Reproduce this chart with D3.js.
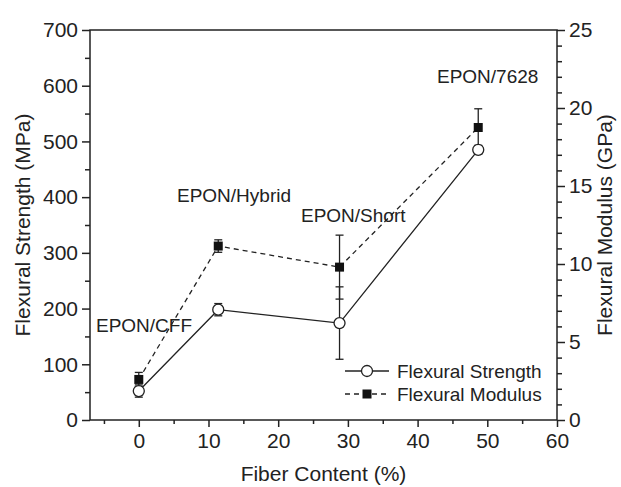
<!DOCTYPE html>
<html>
<head>
<meta charset="utf-8">
<script src="https://cdn.jsdelivr.net/npm/d3@7"></script>
<style>
  body { margin: 0; background: #fff; }
  text { font-family: "Liberation Sans", Arial, sans-serif; fill: #222; }
</style>
</head>
<body>
<svg id="chart" width="621" height="487"></svg>
<script>
// values
const fiber = [0, 11.4, 28.8, 48.7];
const strength = [52, 198, 174, 485];
const strengthErr = [11, 11, 65, 8];
const modulus = [2.6, 11.15, 9.8, 18.75];
const modulusErr = [0.45, 0.4, 2.05, 1.2];
const sampleNames = ["EPON/CFF", "EPON/Hybrid", "EPON/Short", "EPON/7628"];
const xTicks = [0, 10, 20, 30, 40, 50, 60];
const yLeftTicks = [0, 100, 200, 300, 400, 500, 600, 700];
const yRightTicks = [0, 5, 10, 15, 20, 25];

const width = 621, height = 487;
const margin = { top: 30, right: 64, bottom: 67, left: 90 };
const chartWidth = width - margin.left - margin.right;
const chartHeight = height - margin.top - margin.bottom;

const svg = d3.select('#chart')
    .append('g')
    .attr('transform', `translate(${margin.left}, ${margin.top})`);

const xScale = d3.scaleLinear().domain([-7, 60]).range([0, chartWidth]);
const yLeft = d3.scaleLinear().domain([0, 700]).range([chartHeight, 0]);
const yRight = d3.scaleLinear().domain([0, 25]).range([chartHeight, 0]);

// frame
svg.append('rect')
    .attr('width', chartWidth)
    .attr('height', chartHeight)
    .attr('fill', 'none')
    .attr('stroke', '#222')
    .attr('stroke-width', 1.5);

// minor ticks first, then major ticks with labels
function styleAxis(g) {
    g.select('.domain').remove();
    g.selectAll('line').attr('stroke', '#222').attr('stroke-width', 1.5);
    g.selectAll('text').style('font-size', '21px').attr('fill', '#222');
}

svg.append('g')
    .attr('transform', `translate(0, ${chartHeight})`)
    .call(d3.axisBottom(xScale).tickValues(d3.range(-5, 60, 10)).tickSize(4).tickFormat(''))
    .call(styleAxis);
svg.append('g')
    .attr('transform', `translate(0, ${chartHeight})`)
    .call(d3.axisBottom(xScale).tickValues(xTicks).tickSize(7).tickPadding(6))
    .call(styleAxis);

svg.append('g')
    .call(d3.axisLeft(yLeft).tickValues(d3.range(50, 700, 100)).tickSize(5).tickFormat(''))
    .call(styleAxis);
svg.append('g')
    .call(d3.axisLeft(yLeft).tickValues(yLeftTicks).tickSize(8).tickPadding(4))
    .call(styleAxis);

svg.append('g')
    .attr('transform', `translate(${chartWidth}, 0)`)
    .call(d3.axisRight(yRight).tickValues(d3.range(1, 25, 1).filter(v => v % 5 !== 0)).tickSize(5).tickFormat(''))
    .call(styleAxis);
svg.append('g')
    .attr('transform', `translate(${chartWidth}, 0)`)
    .call(d3.axisRight(yRight).tickValues(yRightTicks).tickSize(8).tickPadding(4))
    .call(styleAxis);

// axis titles
svg.append('text')
    .attr('x', chartWidth / 2)
    .attr('y', chartHeight + 61)
    .style('text-anchor', 'middle')
    .style('font-size', '21px')
    .text('Fiber Content (%)');

svg.append('text')
    .attr('transform', 'rotate(-90)')
    .attr('x', -chartHeight / 2)
    .attr('y', -margin.left + 30)
    .style('text-anchor', 'middle')
    .style('font-size', '21px')
    .text('Flexural Strength (MPa)');

svg.append('text')
    .attr('transform', 'rotate(-90)')
    .attr('x', -chartHeight / 2)
    .attr('y', chartWidth + 55)
    .style('text-anchor', 'middle')
    .style('font-size', '21px')
    .text('Flexural Modulus (GPa)');

const points = fiber.map((f, i) => ({
    x: f, s: strength[i], se: strengthErr[i], m: modulus[i], me: modulusErr[i]
}));

// lines
svg.append('path')
    .datum(points)
    .attr('d', d3.line().x(d => xScale(d.x)).y(d => yLeft(d.s)))
    .attr('fill', 'none')
    .attr('stroke', '#222')
    .attr('stroke-width', 1.3);

svg.append('path')
    .datum(points)
    .attr('d', d3.line().x(d => xScale(d.x)).y(d => yRight(d.m)))
    .attr('fill', 'none')
    .attr('stroke', '#222')
    .attr('stroke-width', 1.3)
    .attr('stroke-dasharray', '5,4');

// error bars
function errorBars(cls, yScale, val, err) {
    const g = svg.selectAll('.' + cls).data(points).enter().append('g').attr('class', cls);
    g.append('line')
        .attr('x1', d => xScale(d.x)).attr('x2', d => xScale(d.x))
        .attr('y1', d => yScale(d[val] - d[err])).attr('y2', d => yScale(d[val] + d[err]));
    g.append('line')
        .attr('x1', d => xScale(d.x) - 4).attr('x2', d => xScale(d.x) + 4)
        .attr('y1', d => yScale(d[val] - d[err])).attr('y2', d => yScale(d[val] - d[err]));
    g.append('line')
        .attr('x1', d => xScale(d.x) - 4).attr('x2', d => xScale(d.x) + 4)
        .attr('y1', d => yScale(d[val] + d[err])).attr('y2', d => yScale(d[val] + d[err]));
    g.selectAll('line').attr('stroke', '#222').attr('stroke-width', 1.3);
}
errorBars('err-s', yLeft, 's', 'se');
errorBars('err-m', yRight, 'm', 'me');

// markers
svg.selectAll('.sq')
    .data(points)
    .enter()
    .append('rect')
    .attr('x', d => xScale(d.x) - 4.5)
    .attr('y', d => yRight(d.m) - 4.5)
    .attr('width', 9)
    .attr('height', 9)
    .attr('fill', '#111');

svg.selectAll('.circ')
    .data(points)
    .enter()
    .append('circle')
    .attr('cx', d => xScale(d.x))
    .attr('cy', d => yLeft(d.s))
    .attr('r', 5.5)
    .attr('fill', '#fff')
    .attr('stroke', '#222')
    .attr('stroke-width', 1.3);

// sample labels
const labelPos = [[6, 302], [87, 172], [211, 192], [347, 53]];
sampleNames.forEach((name, i) => {
    svg.append('text')
        .attr('x', labelPos[i][0])
        .attr('y', labelPos[i][1])
        .style('font-size', '19px')
        .text(name);
});

// legend
const legend = svg.append('g').attr('transform', 'translate(255, 341)');
legend.append('line').attr('x1', 0).attr('x2', 44).attr('y1', 0).attr('y2', 0)
    .attr('stroke', '#222').attr('stroke-width', 1.3);
legend.append('circle').attr('cx', 22).attr('cy', 0).attr('r', 5.5)
    .attr('fill', '#fff').attr('stroke', '#222').attr('stroke-width', 1.3);
legend.append('text').attr('x', 52).attr('y', 0).attr('dy', '0.35em')
    .style('font-size', '19px').text('Flexural Strength');

legend.append('line').attr('x1', 0).attr('x2', 44).attr('y1', 23).attr('y2', 23)
    .attr('stroke', '#222').attr('stroke-width', 1.3).attr('stroke-dasharray', '5,4');
legend.append('rect').attr('x', 17.5).attr('y', 18.5).attr('width', 9).attr('height', 9)
    .attr('fill', '#111');
legend.append('text').attr('x', 52).attr('y', 23).attr('dy', '0.35em')
    .style('font-size', '19px').text('Flexural Modulus');
</script>
</body>
</html>
